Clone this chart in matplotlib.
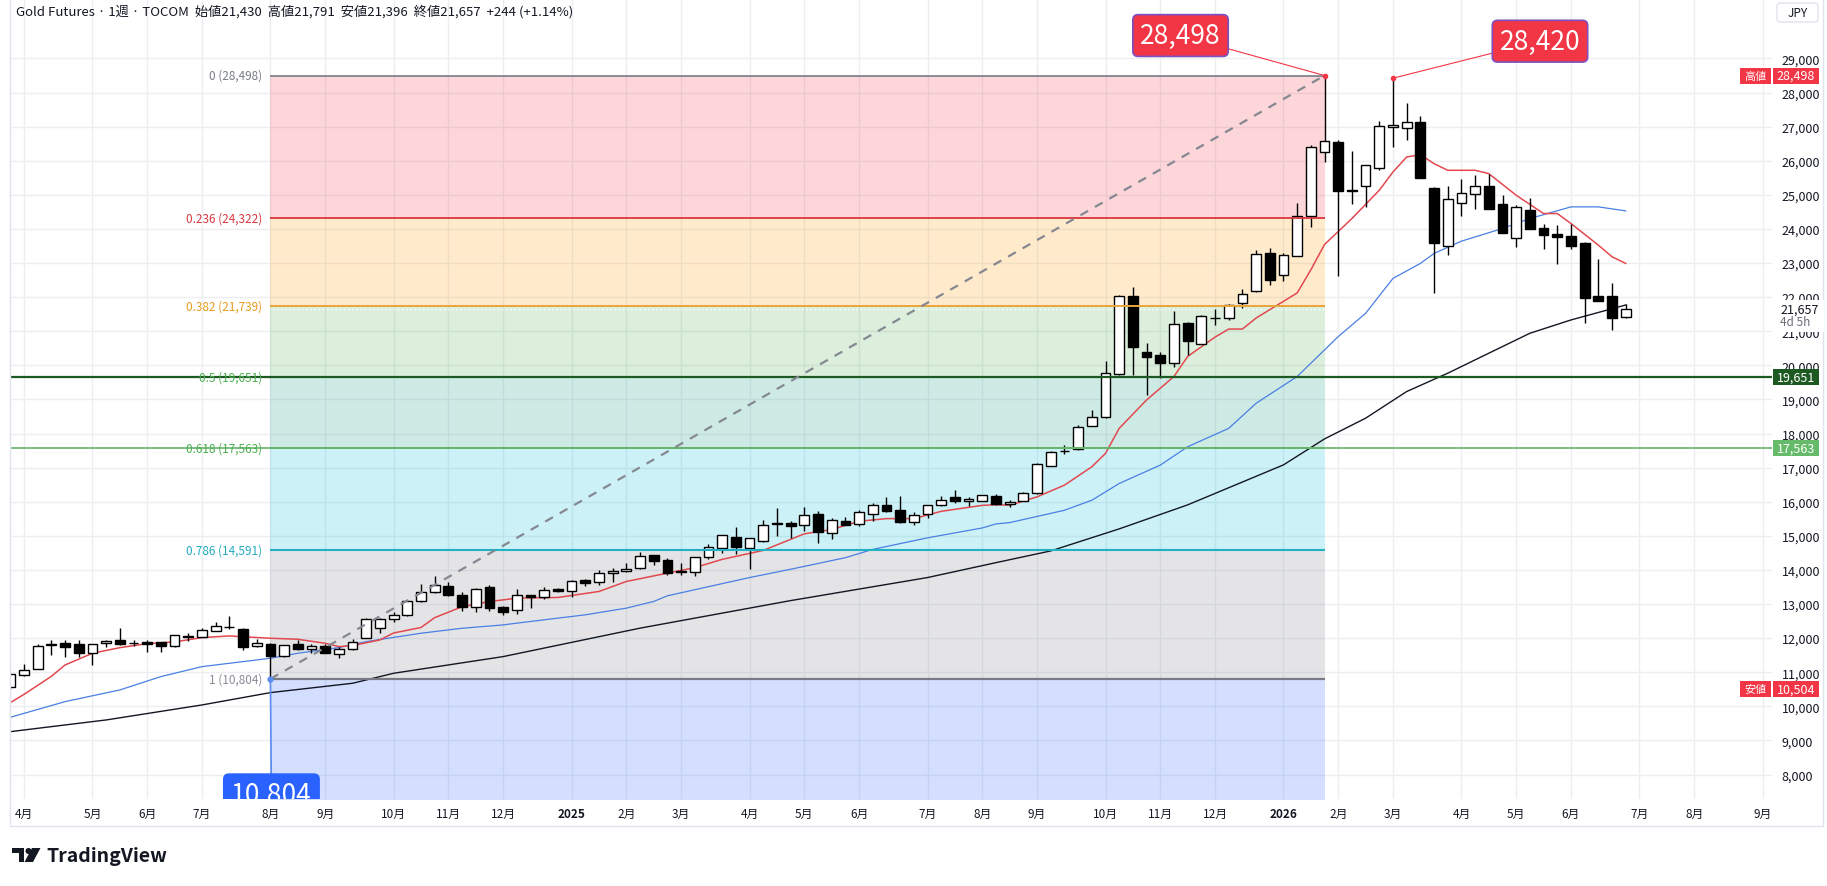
import datetime as dt
import matplotlib
matplotlib.use("Agg")
import matplotlib.pyplot as plt
import matplotlib.dates as mdates
from matplotlib.patches import Rectangle, Circle, Polygon, FancyBboxPatch
import numpy as np

plt.rcParams['font.family'] = ['Noto Sans CJK JP', 'DejaVu Sans']

# ---------------- data ----------------
first_bar = dt.datetime(2024, 3, 25)   # weekly bars (Mondays)

opens = [10560, 10913, 11100, 11800, 11861, 11813, 11549, 11852, 11940, 11850,
         11881, 11881, 11764, 12040, 12047, 12223, 12320, 12262, 11764, 11842,
         11470, 11813, 11695, 11764, 11526, 11673, 12015, 12289, 12556, 12664,
         13075, 13339, 13515, 13251, 12899, 13485, 12899, 12811, 13251, 13192,
         13437, 13368, 13691, 13632, 13896, 13955, 14053, 14424, 14291, 13940,
         13951, 14378, 14650, 14961, 14650, 14845, 15350, 15369, 15310, 15640,
         15087, 15427, 15359, 15650, 15893, 15747, 15408, 15650, 15893, 16126,
         16010, 16029, 16174, 15926, 16024, 16259, 17053, 17480, 17533, 18230,
         18484, 19749, 22023, 20376, 20298, 20082, 21229, 20631, 21380, 21386,
         21817, 22170, 23298, 22651, 23212, 24382, 26255, 26547, 25120, 25260,
         25787, 26986, 26957, 27133, 25202, 23504, 24762, 25016, 25250, 24743,
         23739, 24568, 24012, 23836, 23797, 23573, 22041, 22041, 21430]
highs = [10980, 11245, 11813, 11959, 11959, 11940, 11830, 11940, 12302, 11959,
         11940, 11890, 12105, 12155, 12302, 12478, 12663, 12302, 11979, 11860,
         11800, 11959, 11813, 11813, 11751, 11966, 12602, 12602, 12762, 13094,
         13583, 13818, 13642, 13339, 13460, 13544, 12928, 13437, 13270, 13485,
         13456, 13710, 13740, 13984, 14053, 14190, 14512, 14444, 14359, 14194,
         14390, 14747, 15030, 15262, 14941, 15456, 15815, 15427, 15844, 15718,
         15524, 15553, 15747, 15961, 16136, 16155, 15689, 15912, 16155, 16330,
         16136, 16204, 16233, 16043, 16289, 17141, 17494, 17661, 18249, 18690,
         20131, 22053, 22298, 20651, 20376, 21582, 21259, 21464, 21660, 21798,
         22239, 23376, 23445, 23298, 24773, 26470, 28498, 26596, 26284, 25880,
         27162, 28420, 27698, 27308, 25220, 25260, 25475, 25592, 25621, 24987,
         24714, 24919, 24158, 24109, 24138, 23622, 23105, 22422, 21791]
lows = [10504, 10900, 11090, 11519, 11441, 11441, 11206, 11754, 11800, 11764,
        11588, 11588, 11750, 11910, 12030, 12200, 12272, 11637, 11750, 10804,
        11460, 11646, 11568, 11558, 11409, 11653, 11996, 12143, 12458, 12650,
        13060, 13330, 13240, 12801, 12762, 12801, 12683, 12713, 12879, 13153,
        13349, 13192, 13534, 13564, 13642, 13935, 14023, 14150, 13860, 13850,
        13830, 14310, 14485, 14465, 14019, 14816, 15000, 14932, 15136, 14776,
        14893, 15320, 15281, 15427, 15700, 15390, 15311, 15524, 15880, 15961,
        15864, 16020, 15912, 15847, 16010, 16240, 17040, 17387, 17520, 18220,
        18465, 19720, 19720, 19131, 19641, 19965, 20288, 20620, 21190, 21337,
        21680, 22150, 22366, 22474, 23200, 24060, 25962, 22627, 24743, 24646,
        25719, 26401, 26596, 25480, 22110, 23231, 24372, 24597, 24590, 23880,
        23456, 23985, 23407, 22968, 23407, 21232, 21890, 21037, 21396]
closes = [10950, 11079, 11783, 11830, 11734, 11549, 11813, 11930, 11813, 11861,
          11842, 11764, 12086, 12050, 12233, 12350, 12330, 11734, 11861, 11470,
          11793, 11695, 11764, 11578, 11683, 11898, 12553, 12553, 12664, 13075,
          13339, 13564, 13251, 12908, 13446, 12879, 12752, 13251, 13192, 13417,
          13368, 13681, 13613, 13896, 13955, 14013, 14395, 14248, 13902, 13960,
          14378, 14669, 15019, 14669, 14922, 15330, 15369, 15281, 15602, 15106,
          15456, 15330, 15689, 15893, 15718, 15398, 15621, 15893, 16058, 16010,
          16068, 16184, 15941, 15994, 16259, 17092, 17465, 17494, 18200, 18494,
          19769, 22023, 20523, 20229, 20082, 21219, 20700, 21435, 21390, 21778,
          22101, 23278, 22494, 23249, 24382, 26401, 26567, 25114, 25140, 25865,
          27016, 27055, 27133, 25494, 23593, 24870, 25055, 25260, 24597, 23885,
          24646, 23992, 23817, 23749, 23495, 21983, 21895, 21398, 21657]

# moving averages: (bar number, value)
ma_red_bar = [0, 1, 3, 4, 6, 8, 10, 12, 14, 16, 17, 19, 21, 23, 24, 25, 27, 28, 30, 31,
              33, 35, 36, 37, 40, 43, 45, 48, 50, 52, 55, 58, 60, 62, 64, 66, 68, 71, 72,
              73, 75, 77, 79, 80, 81, 83, 85, 86, 88, 89, 90, 91, 92, 94, 95, 96, 98, 100,
              101, 102, 103, 104, 105, 107, 108, 110, 112, 113, 114, 116, 117, 118]
ma_red_val = [10108, 10350, 10880, 11213, 11556, 11720, 11839, 11890, 12015, 12064, 12040,
              11996, 11966, 11849, 11751, 11781, 11947, 12150, 12312, 12600, 12920, 13075,
              13121, 13173, 13192, 13368, 13661, 13906, 14067, 14310, 14572, 15058, 15184,
              15427, 15504, 15504, 15718, 15893, 15912, 15896, 16142, 16485, 17024, 17416,
              18151, 18984, 19671, 20259, 20827, 21063, 21063, 21386, 21631, 22121, 22800,
              23544, 24304, 25133, 25670, 26109, 26177, 25914, 25719, 25719, 25621, 24987,
              24451, 24451, 24158, 23524, 23183, 22988]
ma_blue_bar = [0, 4, 8, 11, 14, 17, 19, 21, 24, 26, 30, 33, 36, 37, 40, 42, 45, 47, 48, 54,
               57, 61, 63, 67, 71, 72, 73, 77, 79, 81, 84, 86, 89, 91, 94, 97, 99, 101, 103,
               104, 106, 109, 111, 114, 116, 118]
ma_blue_val = [9678, 10138, 10480, 10871, 11164, 11311, 11409, 11556, 11722, 11898, 12143,
               12289, 12387, 12439, 12586, 12683, 12879, 13075, 13241, 13776, 14019, 14359,
               14602, 14941, 15230, 15349, 15387, 15749, 16043, 16534, 17073, 17612, 18151,
               18886, 19671, 20842, 21525, 22549, 22988, 23280, 23641, 24012, 24304, 24646,
               24646, 24529]
ma_black_bar = [0, 7, 14, 19, 25, 28, 36, 46, 48, 57, 67, 72, 76, 81, 86, 93, 96, 99, 102,
                105, 108, 111, 114, 118]
ma_black_val = [9257, 9600, 10040, 10402, 10676, 10969, 11458, 12292, 12439, 13100, 13776,
                14213, 14557, 15203, 15907, 17080, 17842, 18449, 19231, 19768, 20355, 20940,
                21330, 21769]

month_labels = ['4月', '5月', '6月', '7月', '8月', '9月', '10月', '11月', '12月', '2025',
                '2月', '3月', '4月', '5月', '6月', '7月', '8月', '9月', '10月', '11月', '12月',
                '2026', '2月', '3月', '4月', '5月', '6月', '7月', '8月', '9月']
price_ticks = list(range(8000, 30000, 1000))

fib_labels = ['0', '0.236', '0.382', '0.5', '0.618', '0.786', '1']
fib_levels = [28498, 24322, 21739, 19651, 17563, 14591, 10804]
fib_low_bar, fib_high_bar = 19, 96
swing_high_bar2, swing_high2 = 101, 28420
last_price = 21657
range_high, range_low = 28498, 10504
hlines_prices = [19651, 17563]
header = 'Gold Futures · 1週 · TOCOM  始値21,430  高値21,791  安値21,396  終値21,657  +244 (+1.14%)'

# ---------------- figure ----------------
W, H = 1827, 887
fig = plt.figure(figsize=(W / 100, H / 100), dpi=100)
fig.patch.set_facecolor('white')
ax = fig.add_axes([10 / W, 1 - 800 / H, 1762 / W, 800 / H])

dates = [first_bar + dt.timedelta(weeks=i) for i in range(len(opens))]
dn = mdates.date2num(dates)
x_apr = mdates.date2num(dt.datetime(2024, 4, 1))
ax.set_xlim(x_apr - 7.16, x_apr + 893.8)
ax.set_ylim(7282, 30742)

for s in ax.spines.values():
    s.set_visible(False)
ax.set_axisbelow(True)
ax.grid(True, color='#eceef2', lw=1)

# month ticks: first weekly bar inside each month
tick_nums = []
y, m = 2024, 4
for _ in month_labels:
    d = dt.datetime(y, m, 1)
    while d.weekday() != 0:
        d += dt.timedelta(days=1)
    tick_nums.append(mdates.date2num(d))
    m += 1
    if m > 12:
        m, y = 1, y + 1
ax.set_xticks(tick_nums)
ax.set_xticklabels(month_labels)
for t in ax.get_xticklabels():
    if t.get_text() in ('2025', '2026'):
        t.set_fontweight('bold')
ax.tick_params(axis='x', length=0, pad=6, labelsize=8.5, colors='#131722')

ax.yaxis.tick_right()
ax.set_yticks(price_ticks)
ax.set_yticklabels([f'{v:,}' for v in price_ticks])
ax.tick_params(axis='y', length=0, pad=7, labelsize=9, colors='#131722')

# ---------------- fib retracement ----------------
xl, xr = dn[fib_low_bar], dn[fib_high_bar]
fill_cols = ['#f23645', '#ff9800', '#4caf50', '#089981', '#00bcd4', '#787b86']
for i, c in enumerate(fill_cols):
    ax.fill_between([xl, xr], fib_levels[i + 1], fib_levels[i], color=c, alpha=0.2,
                    lw=0, zorder=1)
ax.fill_between([xl, xr], 0, fib_levels[-1], color='#2962ff', alpha=0.2, lw=0, zorder=1)

line_cols = ['#787b86', '#d9363f', '#eaa43a', '#4caf50', '#66b36b', '#22b0c3', '#787b86']
label_cols = ['#787b86', '#d9363f', '#e89b1d', '#4caf50', '#4caf50', '#22aabf', '#8a8d96']
line_w = [1.2, 1.3, 1.4, 1.3, 1.3, 1.5, 1.6]
for lab, lev, lc, tc, lw in zip(fib_labels, fib_levels, line_cols, label_cols, line_w):
    ax.hlines(lev, xl, xr, color=lc, lw=lw, zorder=6)
    ax.annotate(f'{lab} ({lev:,})', xy=(xl, lev), xytext=(-8, 0),
                textcoords='offset pixels', ha='right', va='center', fontsize=8.5,
                color=tc, zorder=9)

# full-width horizontal lines
ax.axhline(hlines_prices[0], color='#1d5a22', lw=1.6, zorder=6)
ax.axhline(hlines_prices[1], color='#66b36b', lw=1.2, zorder=6)

# last price dotted line
ax.axhline(last_price, color='white', lw=1, ls=(0, (1, 2)), zorder=2)

# trend line of the fib tool
ax.plot([xl, xr], [fib_levels[-1], fib_levels[0]], color='#858891', lw=1.6,
        ls=(0, (4, 3.5)), zorder=6)
ax.plot([xl], [fib_levels[-1]], 'o', color='#5b8def', ms=3.5, zorder=7)

# ---------------- moving averages ----------------
ax.plot(dn[ma_black_bar], ma_black_val, color='#131722', lw=1.0, zorder=3)
ax.plot(dn[ma_blue_bar], ma_blue_val, color='#4a7fe3', lw=0.9, zorder=3)
ax.plot(dn[ma_red_bar], ma_red_val, color='#e2494f', lw=1.1, zorder=3)

# ---------------- candles ----------------
o = np.array(opens); h = np.array(highs); l = np.array(lows); c = np.array(closes)
ax.vlines(dn, l, h, color='black', lw=1.0, zorder=4)
bottoms = np.minimum(o, c)
heights = np.maximum(np.abs(c - o), 12)
fcs = ['white' if cc >= oo else 'black' for oo, cc in zip(o, c)]
ax.bar(dn, heights, bottom=bottoms, width=5.0, color=fcs, edgecolor='black', lw=1.0,
       zorder=5)

# ---------------- callouts ----------------
red = '#f23645'
box_kw = dict(boxstyle='round,pad=0.28,rounding_size=0.2', fc=red, ec='#7d4fc0', lw=1.2)
ax.annotate(f'{fib_levels[0]:,}', xy=(dn[fib_high_bar], fib_levels[0]), xytext=(-144, 40),
            textcoords='offset pixels', ha='center', va='center', fontsize=19,
            color='white', bbox=box_kw, zorder=10,
            arrowprops=dict(arrowstyle='-', color=red, lw=0.8, shrinkA=0, shrinkB=0))
ax.plot([dn[fib_high_bar]], [fib_levels[0]], 'o', color=red, ms=3, zorder=10)
ax.annotate(f'{swing_high2:,}', xy=(dn[swing_high_bar2], swing_high2), xytext=(147, 37),
            textcoords='offset pixels', ha='center', va='center', fontsize=19,
            color='white', bbox=box_kw, zorder=10,
            arrowprops=dict(arrowstyle='-', color=red, lw=0.8, shrinkA=0, shrinkB=0))
ax.plot([dn[swing_high_bar2]], [swing_high2], 'o', color=red, ms=3, zorder=10)
ax.annotate(f'{fib_levels[-1]:,}', xy=(dn[fib_low_bar], fib_levels[-1]), xytext=(1, -116),
            textcoords='offset pixels', ha='center', va='center', fontsize=19,
            color='white', zorder=10, clip_on=True,
            bbox=dict(boxstyle='round,pad=0.28,rounding_size=0.2', fc='#2962ff',
                      ec='#2962ff', lw=1),
            arrowprops=dict(arrowstyle='-', color='#5b8def', lw=1.2, shrinkA=0, shrinkB=0))

# ---------------- overlay (pixel space) ----------------
ov = fig.add_axes([0, 0, 1, 1])
ov.set_xlim(0, W)
ov.set_ylim(H, 0)
ov.axis('off')
ov.patch.set_alpha(0)


def ypix(price):
    return H - ax.transData.transform((dn[0], price))[1]


# header
ov.text(16, 12, header, fontsize=9.5, color='#131722', va='center', ha='left')

# chart border
ov.plot([10, 10, 1823, 1823], [0, 827, 827, 0], color='#e0e3eb', lw=1)

# price axis tags
def tag(price, text, fc, side_text=None):
    yp = ypix(price)
    ov.add_patch(Rectangle((1773, yp - 8), 46, 16, fc=fc, ec='none', zorder=5))
    ov.text(1796, yp, text, color='white', fontsize=9, ha='center', va='center', zorder=6)
    if side_text:
        ov.add_patch(Rectangle((1740, yp - 8), 31, 16, fc=fc, ec='none', zorder=5))
        ov.text(1755.5, yp, side_text, color='white', fontsize=8, ha='center',
                va='center', zorder=6)


# last price with countdown (hides part of a grid label)
yl = ypix(last_price)
ov.add_patch(Rectangle((1774, yl - 9), 50, 32, fc='white', ec='none', zorder=4))
ov.text(1780, yl, f'{last_price:,}', fontsize=9, color='#131722', ha='left',
        va='center', zorder=6)
ov.text(1780, yl + 13, '4d 5h', fontsize=8.5, color='#6a6d78', ha='left',
        va='center', zorder=6)

tag(range_high, f'{range_high:,}', red, '高値')
tag(hlines_prices[0], f'{hlines_prices[0]:,}', '#1d5a22')
tag(hlines_prices[1], f'{hlines_prices[1]:,}', '#66bb6a')
tag(range_low, f'{range_low:,}', red, '安値')

# currency box
ov.add_patch(FancyBboxPatch((1777, 4), 41, 19, boxstyle='round,pad=0,rounding_size=3',
                            fc='white', ec='#e0e3eb', lw=1))
ov.text(1797.5, 13.5, 'JPY', fontsize=8.5, color='#131722', ha='center', va='center')

# TradingView logo
ov.add_patch(Rectangle((12, 849), 12, 5.5, fc='#131722', ec='none'))
ov.add_patch(Rectangle((18.5, 849), 5.5, 14, fc='#131722', ec='none'))
ov.add_patch(Circle((28.5, 852), 3.0, fc='#131722', ec='none'))
ov.add_patch(Polygon([(32, 849), (40.5, 849), (33, 863), (24.5, 863)], closed=True,
                     fc='#131722', ec='none'))
ov.text(46, 857, 'TradingView', fontsize=14, fontweight='bold', color='#131722',
        ha='left', va='center')

fig.savefig('out.png', dpi=100)
